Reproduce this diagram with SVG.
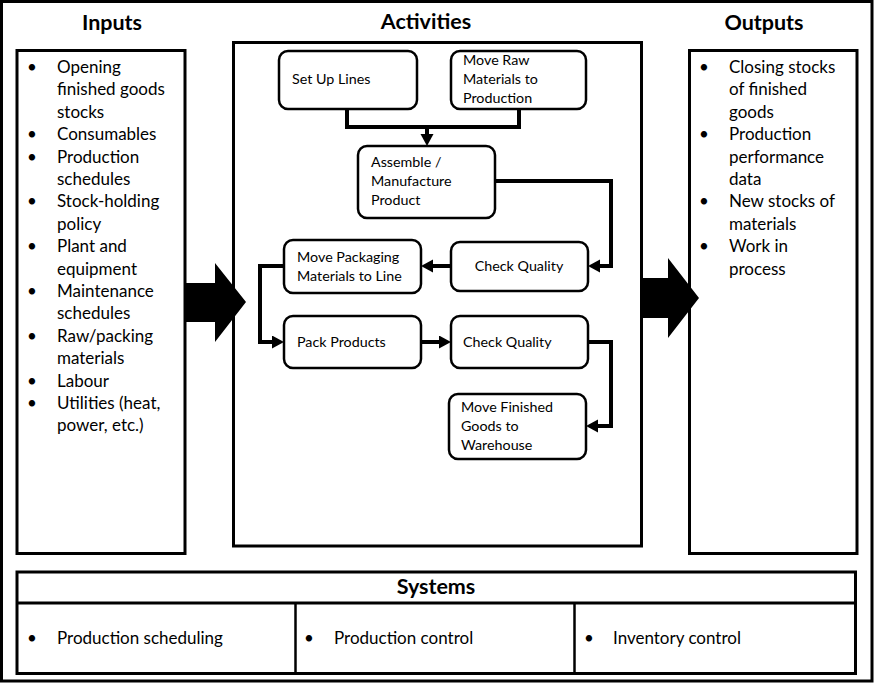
<svg xmlns="http://www.w3.org/2000/svg" width="875" height="684" viewBox="0 0 875 684">
<style>
.frame{fill:#fff;stroke:#000;stroke-width:3}
.node{fill:#fff;stroke:#000;stroke-width:2.5}
.conn{fill:none;stroke:#000;stroke-width:4}
.hd{font-family:Lato,"Liberation Sans",sans-serif;font-weight:bold;font-size:21.5px;fill:#000;text-anchor:middle}
.li{font-family:Lato,"Liberation Sans",sans-serif;font-size:17px;fill:#000}
.nt{font-family:Lato,"Liberation Sans",sans-serif;font-size:14.3px;fill:#000}
</style>
<defs>
<marker id="ah" markerUnits="userSpaceOnUse" markerWidth="14" markerHeight="14" refX="4" refY="6.5" orient="auto">
<path d="M0,0 L12,6.5 L0,13 z" fill="#000"/>
</marker>
</defs>
<rect x="0" y="0" width="875" height="684" fill="#fff"/>
<rect class="frame" x="1.5" y="1.5" width="870.5" height="679.5"/>

<g id="inputs">
<text class="hd" x="112" y="30">Inputs</text>
<rect class="frame" x="17" y="50.5" width="168" height="503"/>
<g class="li">
<text x="27" y="73">•</text><text x="57" y="73">Opening</text>
<text x="57" y="95.4">finished goods</text>
<text x="57" y="117.8">stocks</text>
<text x="27" y="140.2">•</text><text x="57" y="140.2">Consumables</text>
<text x="27" y="162.6">•</text><text x="57" y="162.6">Production</text>
<text x="57" y="185">schedules</text>
<text x="27" y="207.4">•</text><text x="57" y="207.4">Stock-holding</text>
<text x="57" y="229.8">policy</text>
<text x="27" y="252.2">•</text><text x="57" y="252.2">Plant and</text>
<text x="57" y="274.6">equipment</text>
<text x="27" y="297">•</text><text x="57" y="297">Maintenance</text>
<text x="57" y="319.4">schedules</text>
<text x="27" y="341.8">•</text><text x="57" y="341.8">Raw/packing</text>
<text x="57" y="364.2">materials</text>
<text x="27" y="386.6">•</text><text x="57" y="386.6">Labour</text>
<text x="27" y="409">•</text><text x="57" y="409">Utilities (heat,</text>
<text x="57" y="431.4">power, etc.)</text>
</g>
</g>

<g id="outputs">
<text class="hd" x="764" y="30">Outputs</text>
<rect class="frame" x="689.5" y="50.5" width="167.5" height="503"/>
<g class="li">
<text x="699" y="73">•</text><text x="729" y="73">Closing stocks</text>
<text x="729" y="95.4">of finished</text>
<text x="729" y="117.8">goods</text>
<text x="699" y="140.2">•</text><text x="729" y="140.2">Production</text>
<text x="729" y="162.6">performance</text>
<text x="729" y="185">data</text>
<text x="699" y="207.4">•</text><text x="729" y="207.4">New stocks of</text>
<text x="729" y="229.8">materials</text>
<text x="699" y="252.2">•</text><text x="729" y="252.2">Work in</text>
<text x="729" y="274.6">process</text>
</g>
</g>

<g id="activities">
<text class="hd" x="426" y="29">Activities</text>
<rect class="frame" x="233.5" y="42.5" width="408" height="503.5"/>
</g>

<g id="arrow-in"><polygon points="186,283 215,283 215,263 246,302 215,342 215,322 186,322" fill="#000"/></g>
<g id="arrow-out"><polygon points="641,278 668,278 668,258 699,298 668,338 668,318 641,318" fill="#000"/></g>

<g id="connectors">
<path class="conn" d="M347,109 V127 H519 V109"/>
<path class="conn" d="M427,127 V138" marker-end="url(#ah)"/>
<path class="conn" d="M495,181 H611 V266 H596" marker-end="url(#ah)"/>
<path class="conn" d="M451,266 H429" marker-end="url(#ah)"/>
<path class="conn" d="M284,266 H260 V342 H276" marker-end="url(#ah)"/>
<path class="conn" d="M421,342 H443" marker-end="url(#ah)"/>
<path class="conn" d="M588,342 H611 V426 H594" marker-end="url(#ah)"/>
</g>

<g id="n-setup">
<rect class="node" x="279" y="51" width="138" height="58" rx="9"/>
<text class="nt" x="292" y="84">Set Up Lines</text>
</g>
<g id="n-moveraw">
<rect class="node" x="451" y="51" width="135" height="58" rx="9"/>
<text class="nt" x="463" y="65">Move Raw</text>
<text class="nt" x="463" y="84">Materials to</text>
<text class="nt" x="463" y="103">Production</text>
</g>
<g id="n-assemble">
<rect class="node" x="358" y="146" width="137" height="72" rx="9"/>
<text class="nt" x="371" y="167">Assemble /</text>
<text class="nt" x="371" y="186">Manufacture</text>
<text class="nt" x="371" y="205">Product</text>
</g>
<g id="n-check1">
<rect class="node" x="451" y="242" width="137" height="49" rx="9"/>
<text class="nt" x="519" y="271" text-anchor="middle">Check Quality</text>
</g>
<g id="n-movepack">
<rect class="node" x="284" y="240" width="137" height="53" rx="9"/>
<text class="nt" x="297" y="262">Move Packaging</text>
<text class="nt" x="297" y="281">Materials to Line</text>
</g>
<g id="n-pack">
<rect class="node" x="284" y="316" width="137" height="52" rx="9"/>
<text class="nt" x="297" y="347">Pack Products</text>
</g>
<g id="n-check2">
<rect class="node" x="451" y="316" width="137" height="52" rx="9"/>
<text class="nt" x="463" y="347">Check Quality</text>
</g>
<g id="n-movefin">
<rect class="node" x="449" y="394" width="137" height="65" rx="9"/>
<text class="nt" x="461" y="412">Move Finished</text>
<text class="nt" x="461" y="431">Goods to</text>
<text class="nt" x="461" y="450">Warehouse</text>
</g>

<g id="systems">
<rect class="frame" x="17" y="572" width="838.5" height="101.5"/>
<line x1="17" y1="603" x2="855.5" y2="603" stroke="#000" stroke-width="3"/>
<line x1="295.5" y1="603" x2="295.5" y2="673.5" stroke="#000" stroke-width="2.5"/>
<line x1="574.5" y1="603" x2="574.5" y2="673.5" stroke="#000" stroke-width="2.5"/>
<text class="hd" x="436" y="594">Systems</text>
<g class="li">
<text x="27" y="644">•</text><text x="57" y="644">Production scheduling</text>
<text x="304" y="644">•</text><text x="334" y="644">Production control</text>
<text x="584" y="644">•</text><text x="613" y="644">Inventory control</text>
</g>
</g>
</svg>
